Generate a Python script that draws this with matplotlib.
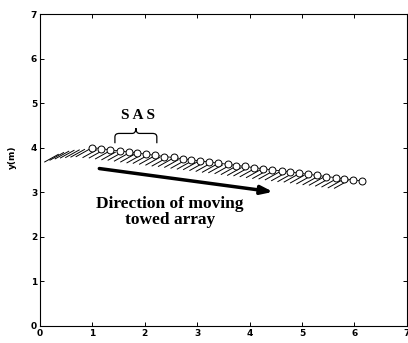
import numpy as np
from matplotlib import pyplot as plt
from matplotlib.path import Path
from matplotlib.patches import PathPatch

plt.close("all")

# Towed array element positions (m)
elem_x = [1.00, 1.17, 1.34, 1.52, 1.69, 1.86, 2.03, 2.20, 2.37, 2.55, 2.72,
          2.89, 3.06, 3.23, 3.40, 3.58, 3.75, 3.92, 4.09, 4.26, 4.43, 4.61,
          4.78, 4.95, 5.12, 5.29, 5.46, 5.64, 5.81, 5.98, 6.15]
elem_y = [4.00, 3.98, 3.95, 3.93, 3.90, 3.88, 3.85, 3.83, 3.80, 3.78, 3.75,
          3.73, 3.70, 3.68, 3.65, 3.63, 3.60, 3.58, 3.55, 3.53, 3.50, 3.48,
          3.45, 3.43, 3.40, 3.38, 3.35, 3.33, 3.30, 3.28, 3.25]

# Synthetic aperture trail (hatched), starting points of the strokes
trail_x = [0.35, 0.45, 0.55, 0.65, 0.75, 0.85, 0.95, 1.08, 1.20, 1.32, 1.44,
           1.56, 1.68, 1.80, 1.92, 2.04, 2.16, 2.28, 2.40, 2.52, 2.64, 2.76,
           2.88, 3.00, 3.12, 3.24, 3.36, 3.48, 3.60, 3.72, 3.84, 3.96, 4.08,
           4.20, 4.32, 4.44, 4.56, 4.68, 4.80, 4.92, 5.04, 5.16, 5.28, 5.40,
           5.52, 5.64, 5.76, 5.88]
trail_y = [3.88, 3.92, 3.95, 3.97, 3.98, 3.99, 4.00, 3.98, 3.97, 3.95, 3.93,
           3.92, 3.90, 3.88, 3.86, 3.85, 3.83, 3.81, 3.79, 3.78, 3.76, 3.74,
           3.72, 3.71, 3.69, 3.67, 3.65, 3.64, 3.62, 3.60, 3.58, 3.57, 3.55,
           3.53, 3.51, 3.50, 3.48, 3.46, 3.44, 3.43, 3.41, 3.39, 3.37, 3.36,
           3.34, 3.32, 3.30, 3.29]

fig = plt.figure(figsize=(4.08, 3.43), dpi=100)
ax = fig.add_axes([0.098, 0.05, 0.899, 0.909])

# hatch strokes under the track
for tx, ty in zip(trail_x, trail_y):
    ax.plot([tx, tx - 0.26], [ty - 0.03, ty - 0.2], color='black', lw=0.7)

ax.plot(elem_x, elem_y, '-', color='black', lw=0.6)
ax.plot(elem_x, elem_y, 'o', markerfacecolor='white', markeredgecolor='black',
        markersize=5, markeredgewidth=0.7)

# curly brace over the SAS segment
bx0, bx1, by0, by1 = 1.43, 2.23, 4.10, 4.32
bm = (bx0 + bx1) / 2
verts = [(bx0, by0), (bx0, by1 - 0.08), (bx0, by1), (bx0 + 0.08, by1),
         (bm - 0.07, by1), (bm, by1), (bm, by1 + 0.12),
         (bm, by1 + 0.12), (bm, by1), (bm + 0.07, by1),
         (bx1 - 0.08, by1), (bx1, by1), (bx1, by1 - 0.08), (bx1, by0)]
codes = [Path.MOVETO, Path.LINETO, Path.CURVE3, Path.CURVE3,
         Path.LINETO, Path.CURVE3, Path.CURVE3,
         Path.MOVETO, Path.CURVE3, Path.CURVE3,
         Path.LINETO, Path.CURVE3, Path.CURVE3, Path.LINETO]
ax.add_patch(PathPatch(Path(verts, codes), fill=False, lw=0.9, color='black'))

ax.text(1.87, 4.73, 'S A S', fontfamily='Liberation Serif', fontweight='bold',
        fontsize=11, ha='center', va='center')

ax.annotate('', xy=(4.5, 3.0), xytext=(1.08, 3.54),
            arrowprops=dict(arrowstyle='-|>,head_length=0.7,head_width=0.25',
                            color='black', lw=2.5))
ax.text(2.48, 2.55, 'Direction of moving\ntowed array', fontfamily='Liberation Serif',
        fontweight='bold', fontsize=12.5, ha='center', va='center', linespacing=1.0)

ax.set_xlim(0, 7)
ax.set_ylim(0, 7)
ax.set_xticks(range(8))
ax.set_yticks(range(8))
ax.tick_params(direction='in', length=3, width=0.7, top=True, right=True,
               labelsize=6.5, pad=2)
for lbl in ax.get_xticklabels() + ax.get_yticklabels():
    lbl.set_fontweight('bold')
for s in ax.spines.values():
    s.set_linewidth(0.8)

ax.set_xlabel('x(m)', fontsize=6.5, fontweight='bold')
ax.xaxis.set_label_coords(0.5, -0.06)
ax.set_ylabel('y(m)', fontsize=6.5, fontweight='bold')
ax.yaxis.set_label_coords(-0.062, 0.54)

fig.savefig('out.png', dpi=100)
